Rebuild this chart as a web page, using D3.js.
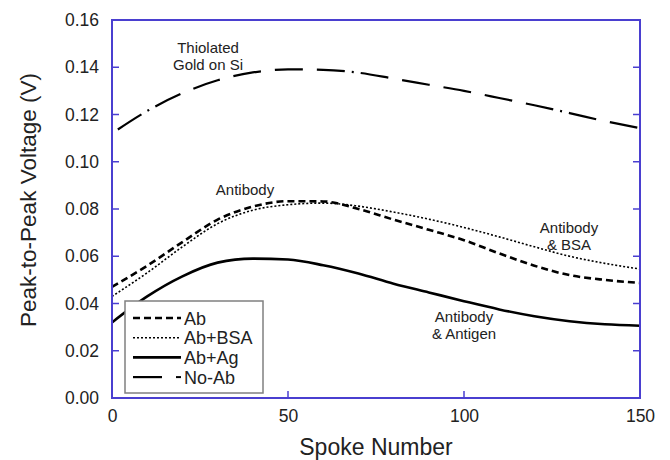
<!DOCTYPE html>
<html>
<head>
<meta charset="utf-8">
<script src="https://cdn.jsdelivr.net/npm/d3@7/dist/d3.min.js"></script>
<style>
  html, body { margin: 0; padding: 0; background: #fff; }
  svg text { font-family: "Liberation Sans", Arial, Helvetica, sans-serif; fill: #222; }
</style>
</head>
<body>
<svg id="chart" width="670" height="460"></svg>
<script>
// Spoke positions at which each response curve is sampled
const spokes = [0, 10, 20, 30, 40, 50, 60, 70, 80, 90, 100, 110, 120, 130, 140, 150];

// Peak-to-peak voltage (V) for each surface treatment
const ab    = [0.047, 0.056, 0.066, 0.0755, 0.081, 0.0833, 0.0832, 0.0800, 0.0755, 0.0712, 0.0668, 0.0612, 0.0560, 0.0520, 0.0500, 0.0487];
const abBsa = [0.043, 0.053, 0.064, 0.0738, 0.0795, 0.0818, 0.0825, 0.0812, 0.0787, 0.0757, 0.0722, 0.0682, 0.0640, 0.0600, 0.0570, 0.0546];
const abAg  = [0.032, 0.043, 0.0515, 0.0573, 0.0590, 0.0586, 0.0562, 0.0527, 0.0484, 0.0447, 0.0410, 0.0375, 0.0346, 0.0325, 0.0312, 0.0306];
const noAb  = [0.112, 0.1215, 0.1290, 0.1345, 0.1378, 0.1391, 0.1389, 0.1377, 0.1352, 0.1326, 0.1300, 0.1270, 0.1239, 0.1206, 0.1172, 0.1142];

const seriesNames = ["Ab", "Ab+BSA", "Ab+Ag", "No-Ab"];

const xTicks = [0, 50, 100, 150];
const yTicks = [0, 0.02, 0.04, 0.06, 0.08, 0.10, 0.12, 0.14, 0.16];

const svg = d3.select("#chart");
const margin = { left: 112, right: 30, top: 20, bottom: 62 };
const W = 670, H = 460;

const x = d3.scaleLinear().domain([0, 150]).range([margin.left, W - margin.right]);
const y = d3.scaleLinear().domain([0, 0.16]).range([H - margin.bottom, margin.top]);

const frameColor = "#4a3fd0";

// Line styles for each series
const styles = [
  { values: ab,    width: 2.6, dash: "7,4", offset: 0 },
  { values: abBsa, width: 1.6, dash: "2,2", offset: 0 },
  { values: abAg,  width: 2.6, dash: null, offset: 0 },
  { values: noAb,  width: 2.2, dash: "28,14,28,14,28,14,28,14,28,7,2,7", offset: 161 }
];

const line = d3.line()
  .x(d => x(d[0]))
  .y(d => y(d[1]))
  .curve(d3.curveMonotoneX);

// Curves
styles.forEach(s => {
  svg.append("path")
    .datum(spokes.map((sp, i) => [sp, s.values[i]]))
    .attr("fill", "none")
    .attr("stroke", "#000")
    .attr("stroke-width", s.width)
    .attr("stroke-dasharray", s.dash)
    .attr("stroke-dashoffset", s.offset)
    .attr("d", line);
});

// Axes: ticks drawn inward, labels outside
const axisLeft = d3.axisLeft(y).tickValues(yTicks).tickSize(0).tickPadding(13)
  .tickFormat(d3.format(".2f"));
const gL = svg.append("g").attr("transform", `translate(${margin.left},0)`).call(axisLeft);
gL.select(".domain").remove();
gL.selectAll("text").attr("font-size", 17.5).attr("fill", "#222")
  .attr("font-family", "Liberation Sans, Arial, sans-serif");

const axisBottom = d3.axisBottom(x).tickValues(xTicks).tickSize(0).tickPadding(12)
  .tickFormat(d3.format("d"));
const gB = svg.append("g").attr("transform", `translate(0,${H - margin.bottom})`).call(axisBottom);
gB.select(".domain").remove();
gB.selectAll("text").attr("font-size", 17.5).attr("fill", "#222")
  .attr("font-family", "Liberation Sans, Arial, sans-serif");

// Inward tick marks on left and right edges
const tickLen = 7;
yTicks.slice(1, -1).forEach(t => {
  svg.append("line").attr("x1", x(0)).attr("x2", x(0) + tickLen)
    .attr("y1", y(t)).attr("y2", y(t))
    .attr("stroke", frameColor).attr("stroke-width", 1.5);
  svg.append("line").attr("x1", x(150)).attr("x2", x(150) - tickLen)
    .attr("y1", y(t)).attr("y2", y(t))
    .attr("stroke", frameColor).attr("stroke-width", 1.5);
});
xTicks.slice(1, -1).forEach(t => {
  svg.append("line").attr("x1", x(t)).attr("x2", x(t))
    .attr("y1", y(0)).attr("y2", y(0) - tickLen)
    .attr("stroke", frameColor).attr("stroke-width", 1.5);
});

// Plot frame
svg.append("rect")
  .attr("x", x(0)).attr("y", y(0.16))
  .attr("width", x(150) - x(0)).attr("height", y(0) - y(0.16))
  .attr("fill", "none").attr("stroke", frameColor).attr("stroke-width", 2);

// Axis titles
svg.append("text")
  .attr("transform", `translate(36,200) rotate(-90)`)
  .attr("text-anchor", "middle")
  .attr("font-size", 22.5)
  .text("Peak-to-Peak Voltage (V)");

svg.append("text")
  .attr("x", (x(0) + x(150)) / 2).attr("y", 455)
  .attr("text-anchor", "middle")
  .attr("font-size", 23)
  .text("Spoke Number");

// Curve annotations
const notes = [
  { lines: ["Thiolated", "Gold on Si"], cx: 208, cy: 53 },
  { lines: ["Antibody"], cx: 245, cy: 195 },
  { lines: ["Antibody", "& BSA"], cx: 569, cy: 233 },
  { lines: ["Antibody", "& Antigen"], cx: 464, cy: 322 }
];
notes.forEach(n => {
  const t = svg.append("text").attr("text-anchor", "middle").attr("font-size", 15);
  n.lines.forEach((l, i) => {
    t.append("tspan").attr("x", n.cx).attr("y", n.cy + i * 16.5).text(l);
  });
});

// Legend
const leg = svg.append("g");
leg.append("rect")
  .attr("x", 125).attr("y", 301).attr("width", 138).attr("height", 92)
  .attr("fill", "#fff").attr("stroke", "#808080").attr("stroke-width", 1.5);

seriesNames.forEach((name, i) => {
  const ly = 318 + i * 19.7;
  const s = styles[i];
  leg.append("line")
    .attr("x1", 133).attr("x2", i === 3 ? 162 : 181)
    .attr("y1", ly).attr("y2", ly)
    .attr("stroke", "#000").attr("stroke-width", s.width)
    .attr("stroke-dasharray", i === 3 ? null : s.dash);
  if (i === 3) {
    leg.append("line")
      .attr("x1", 176).attr("x2", 181)
      .attr("y1", ly).attr("y2", ly)
      .attr("stroke", "#000").attr("stroke-width", 2);
  }
  leg.append("text")
    .attr("x", 184).attr("y", ly + 6.5)
    .attr("font-size", 18)
    .text(name);
});
</script>
</body>
</html>
